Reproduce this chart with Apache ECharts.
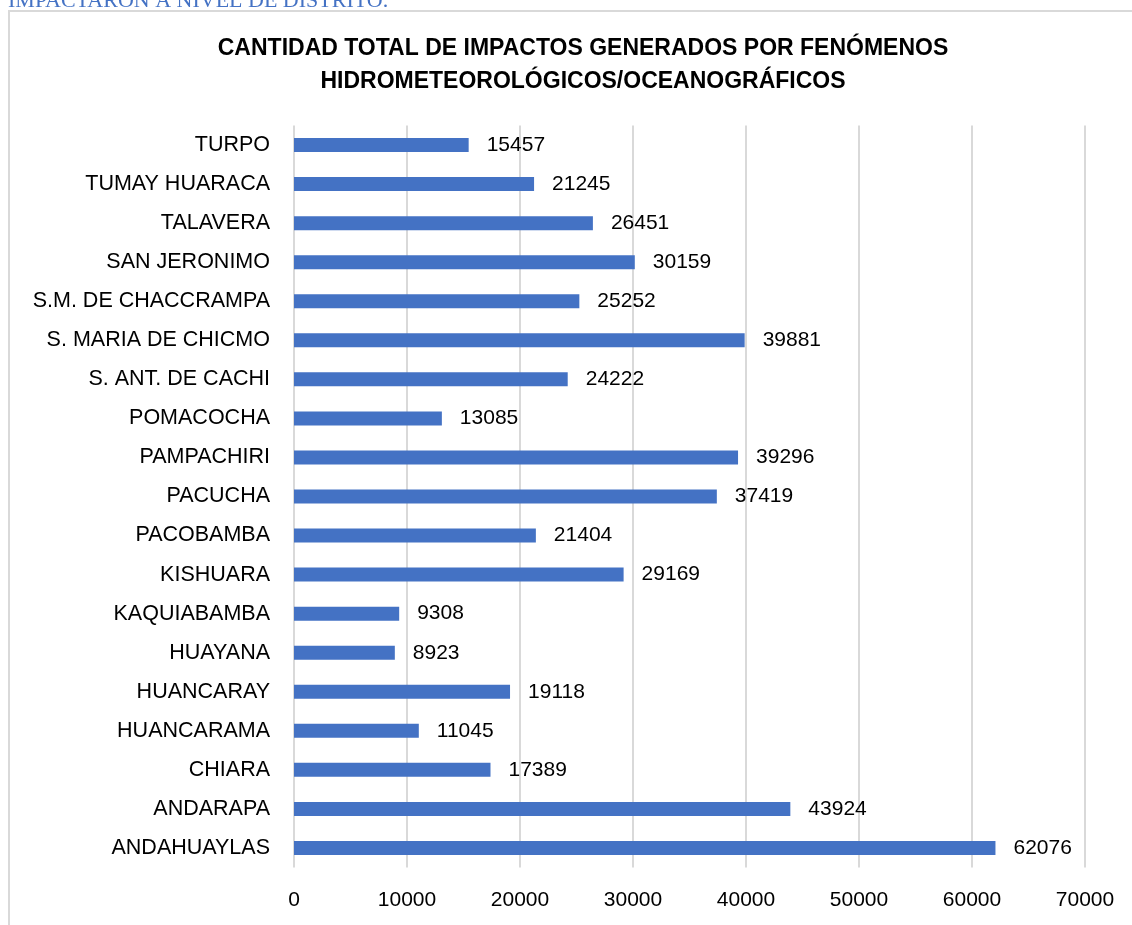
<!DOCTYPE html>
<html>
<head>
<meta charset="utf-8">
<script src="https://cdn.jsdelivr.net/npm/echarts@6/dist/echarts.min.js"></script>
<style>
  html, body { margin: 0; padding: 0; background: #fff; }
  #chart { width: 1132px; height: 925px; }
</style>
</head>
<body>
<div id="chart"></div>
<script>
// districts, listed bottom to top like the source sheet
const districts = [
  'ANDAHUAYLAS', 'ANDARAPA', 'CHIARA', 'HUANCARAMA', 'HUANCARAY', 'HUAYANA',
  'KAQUIABAMBA', 'KISHUARA', 'PACOBAMBA', 'PACUCHA', 'PAMPACHIRI', 'POMACOCHA',
  'S. ANT. DE CACHI', 'S. MARIA DE CHICMO', 'S.M. DE CHACCRAMPA', 'SAN JERONIMO',
  'TALAVERA', 'TUMAY HUARACA', 'TURPO'
];
const impacts = [
  62076, 43924, 17389, 11045, 19118, 8923,
  9308, 29169, 21404, 37419, 39296, 13085,
  24222, 39881, 25252, 30159,
  26451, 21245, 15457
];
const xTicks = [0, 10000, 20000, 30000, 40000, 50000, 60000, 70000];

const sans = "'Liberation Sans', Arial, sans-serif";

const chart = echarts.init(document.getElementById('chart'));

chart.setOption({
  animation: false,
  graphic: [
    {
      type: 'rect',
      shape: { x: 9, y: 11, width: 1200, height: 1000 },
      style: { fill: 'none', stroke: '#d9d9d9', lineWidth: 2 },
      silent: true
    },
    {
      type: 'text',
      left: 8,
      top: -10,
      style: {
        text: 'IMPACTARON A NIVEL DE DISTRITO.',
        font: '22px "Liberation Serif", "Times New Roman", serif',
        fill: '#4472c4'
      }
    }
  ],
  title: {
    text: 'CANTIDAD TOTAL DE IMPACTOS GENERADOS POR FENÓMENOS\nHIDROMETEOROLÓGICOS/OCEANOGRÁFICOS',
    left: 578,
    top: 27,
    textAlign: 'center',
    textStyle: {
      fontFamily: sans,
      fontSize: 23,
      fontWeight: 'bold',
      color: '#000',
      lineHeight: 33
    }
  },
  grid: {
    left: 294,
    right: 47,
    top: 125.5,
    bottom: 57.5,
    containLabel: false,
    outerBoundsMode: 'none'
  },
  xAxis: {
    type: 'value',
    min: xTicks[0],
    max: xTicks[xTicks.length - 1],
    interval: 10000,
    axisLine: { show: false },
    axisTick: { show: false },
    splitLine: { show: true, lineStyle: { color: '#d9d9d9', width: 2 } },
    axisLabel: {
      margin: 22,
      fontFamily: sans,
      fontSize: 21,
      color: '#000',
      formatter: v => String(v)
    }
  },
  yAxis: {
    type: 'category',
    data: districts,
    axisLine: { show: false },
    axisTick: { show: false },
    axisLabel: {
      margin: 24,
      fontFamily: sans,
      fontSize: 21.5,
      color: '#000'
    }
  },
  series: [
    {
      type: 'bar',
      data: impacts,
      barWidth: 14,
      itemStyle: { color: '#4472c4' },
      label: {
        show: true,
        position: 'right',
        distance: 18,
        fontFamily: sans,
        fontSize: 21,
        color: '#000',
        formatter: p => String(p.value)
      }
    }
  ]
});
</script>
</body>
</html>
